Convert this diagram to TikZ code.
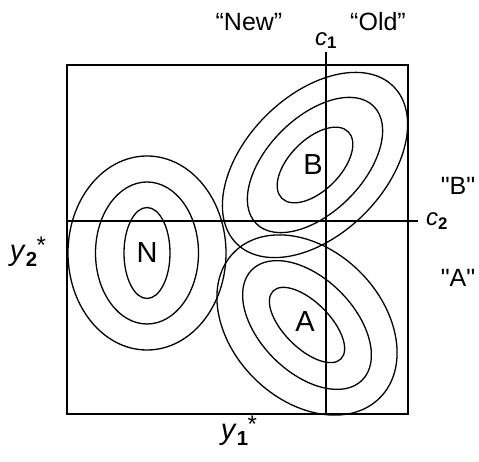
\documentclass[tikz,border=0pt]{standalone}
\usepackage{fontspec}
\setmainfont{Liberation Sans}
\usetikzlibrary{positioning,calc}
\newcommand{\va}[2]{\textit{#1}\textsubscript{\textbf{#2}}}
\newcommand{\etoile}{\kern-1pt\raisebox{7pt}{\fontsize{24}{24}\selectfont *}}
\tikzset{
  contour/.style={draw=black, line width=1.3pt},
  axe/.style={draw=black, line width=#1},
  centre/.style={font=\fontsize{29}{29}\selectfont, inner sep=0pt},
  etiq/.style={font=\fontsize{#1}{#1}\selectfont, inner sep=0pt},
  etiq/.default=25,
}
\begin{document}
\begin{tikzpicture}[x=1pt,y=1pt]
     \useasboundingbox (0,0) rectangle (479,462);
     % cadre et seuils
     \draw[axe=1.3pt] (67,48) rectangle (408,397);
     \coordinate (c1b) at (326,48); \coordinate (c1h) at (326,410);
     \coordinate (c2g) at (67,241); \coordinate (c2d) at (418,241);
     \draw[axe=1.3pt] (c1b)--(c1h);
     \draw[axe=2pt] (c2g)--(c2d);
     % les trois groupes
     \node[centre] (N) at (147,209) {N};
     \node[centre] (B) at (313,297) {B};
     \node[centre] (A) at (305,140) {A};
     \draw[contour] (147,209) ellipse[x radius=23, y radius=45.5];
     \draw[contour] (147,209) ellipse[x radius=51.5, y radius=71];
     \draw[contour] (147,209) ellipse[x radius=79, y radius=97];
     \draw[contour, rotate around={45:(315,297)}] (315,297) ellipse[x radius=47, y radius=25.5];
     \draw[contour, rotate around={45:(315,297)}] (315,297) ellipse[x radius=83, y radius=47.5];
     \draw[contour, rotate around={45:(315,297)}] (315,297) ellipse[x radius=111, y radius=69.5];
     \draw[contour, rotate around={-45:(307,137)}] (307,137) ellipse[x radius=48, y radius=23];
     \draw[contour, rotate around={-45:(307,137)}] (307,137) ellipse[x radius=78, y radius=47];
     \draw[contour, rotate around={-45:(307,137)}] (307,137) ellipse[x radius=103, y radius=75];
     % etiquettes
     \node[etiq] (new) at (249,440) {“New”};
     \node[etiq] (old) at (378,440) {“Old”};
     \node[etiq=24, above=3pt of c1h] (c1) {\va{c}{1}};
     \node[etiq=24, right=8pt of c2d] (c2) {\va{c}{2}};
     \node[etiq] (gb) at (458,276) {\textquotedbl B\textquotedbl};
     \node[etiq] (ga) at (458,184) {\textquotedbl A\textquotedbl};
     \node[etiq=29] (y2) at (28,210) {\va{y}{2}\etoile};
     \node[etiq=29] (y1) at (239,31) {\va{y}{1}\etoile};
   \end{tikzpicture}
\end{document}
